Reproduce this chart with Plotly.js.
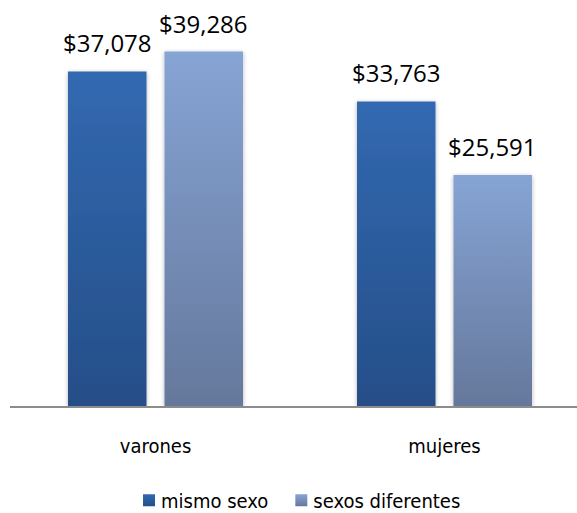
<!DOCTYPE html>
<html>
<head>
<meta charset="utf-8">
<script src="https://cdn.plot.ly/plotly-3.0.1.min.js"></script>
<style>
  html, body { margin: 0; padding: 0; background: #ffffff; }
  #chart { width: 577px; height: 513px; }
</style>
</head>
<body>
<div id="chart"></div>
<script>
// ---- data ----
const categories = ["varones", "mujeres"];
const seriesNames = ["mismo sexo", "sexos diferentes"];
const mismoSexo = [37078, 33763];
const sexosDiferentes = [39286, 25591];

// ---- styles ----
const gradTop = ["#3269b1", "#86a4d4"];
const gradBottom = ["#254e88", "#65789c"];
const solid = ["#2c5d9e", "#7690bb"];
const catFont = "DejaVu Sans Condensed, Tahoma, DejaVu Sans, sans-serif";
const numFont = "Open Sans, Noto Sans, sans-serif";

const W = 577, H = 513;
const margin = {l: 10, r: 0, t: 0, b: 107};
const xRange = [-0.5035, 1.4585];
const bargap = 0.332;
const bargroupgap = 0.1865;

const seriesValues = [mismoSexo, sexosDiferentes];

const data = seriesValues.map((vals, j) => ({
  type: "bar",
  name: seriesNames[j],
  x: categories,
  y: vals,
  marker: {color: solid[j], line: {width: 0}},
  hoverinfo: "skip"
}));

const plotW = W - margin.l - margin.r;
const pxPerUnit = plotW / (xRange[1] - xRange[0]);
const slotPx = (1 - bargap) / seriesValues.length * pxPerUnit;

const annotations = [];
seriesValues.forEach((vals, j) => {
  vals.forEach((v, i) => {
    annotations.push({
      x: categories[i], y: v, xref: "x", yref: "y",
      text: "$" + v.toLocaleString("en-US"),
      showarrow: false, yanchor: "bottom", xanchor: "center",
      yshift: 10,
      xshift: (j - (seriesValues.length - 1) / 2) * slotPx,
      font: {family: numFont, size: 24, color: "#000000"}
    });
  });
});

const layout = {
  width: W, height: H,
  margin: margin,
  paper_bgcolor: "#ffffff",
  plot_bgcolor: "#ffffff",
  barmode: "group",
  bargap: bargap,
  bargroupgap: bargroupgap,
  showlegend: true,
  xaxis: {
    type: "category",
    range: xRange,
    showline: true, linecolor: "#8c8c8c", linewidth: 1.5,
    showgrid: false, zeroline: false,
    ticks: "outside", ticklen: 21, tickcolor: "rgba(0,0,0,0)",
    tickfont: {family: catFont, size: 20, color: "#000000"},
    fixedrange: true
  },
  yaxis: {
    range: [0, 45000],
    visible: false,
    showgrid: false, zeroline: false,
    fixedrange: true
  },
  legend: {
    orientation: "h",
    xref: "container", yref: "container",
    x: 0.5087, xanchor: "center",
    y: 0.025, yanchor: "middle",
    font: {family: catFont, size: 20, color: "#000000"},
    bgcolor: "rgba(0,0,0,0)",
    itemclick: false, itemdoubleclick: false
  },
  annotations: annotations
};

function applyGradients(gd) {
  const ns = "http://www.w3.org/2000/svg";
  const svg = gd.querySelector(".main-svg");
  let defs = svg.querySelector("defs");
  if (!defs) { defs = document.createElementNS(ns, "defs"); svg.insertBefore(defs, svg.firstChild); }
  gradTop.forEach((top, i) => {
    const lg = document.createElementNS(ns, "linearGradient");
    lg.setAttribute("id", "bargrad" + i);
    lg.setAttribute("x1", "0"); lg.setAttribute("y1", "0");
    lg.setAttribute("x2", "0"); lg.setAttribute("y2", "1");
    [[0, top], [1, gradBottom[i]]].forEach(([o, c]) => {
      const st = document.createElementNS(ns, "stop");
      st.setAttribute("offset", o);
      st.setAttribute("stop-color", c);
      lg.appendChild(st);
    });
    defs.appendChild(lg);
  });
  const f = document.createElementNS(ns, "filter");
  f.setAttribute("id", "barshadow");
  f.setAttribute("x", "-20%"); f.setAttribute("y", "-5%");
  f.setAttribute("width", "140%"); f.setAttribute("height", "112%");
  const ds = document.createElementNS(ns, "feDropShadow");
  ds.setAttribute("dx", "0"); ds.setAttribute("dy", "1");
  ds.setAttribute("stdDeviation", "2");
  ds.setAttribute("flood-color", "#000000");
  ds.setAttribute("flood-opacity", "0.3");
  f.appendChild(ds);
  defs.appendChild(f);

  gd.querySelectorAll(".barlayer .trace").forEach((tr, i) => {
    tr.querySelectorAll("path").forEach(p => {
      p.style.fill = "url(#bargrad" + i + ")";
      p.setAttribute("filter", "url(#barshadow)");
    });
  });
  gd.querySelectorAll(".legend .traces").forEach((tr, i) => {
    const lp = tr.querySelector(".legendpoints");
    if (lp) {
      lp.setAttribute("transform", ((lp.getAttribute("transform") || "") + " translate(8,0)").trim());
    }
    tr.querySelectorAll(".legendpoints path").forEach(p => {
      p.style.fill = "url(#bargrad" + i + ")";
      p.style.stroke = "none";
    });
  });
}

Plotly.newPlot("chart", data, layout, {staticPlot: true, displayModeBar: false})
  .then(applyGradients);
</script>
</body>
</html>
